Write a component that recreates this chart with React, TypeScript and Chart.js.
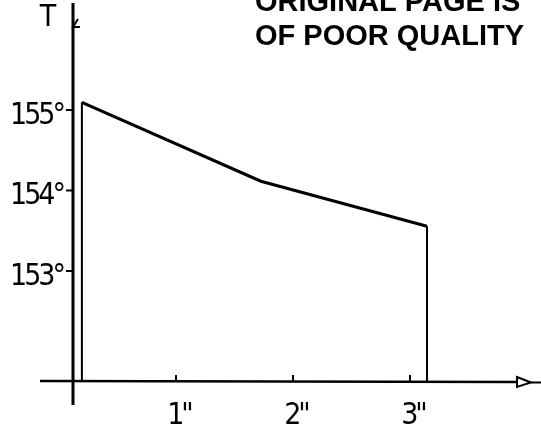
import React, { useEffect, useRef } from "react";
import { Chart, registerables } from "chart.js";

Chart.register(...registerables);

// Data
const timeValues = [0.17, 1.7, 3.12]; // seconds (″)
const temperatureValues = [155.17, 154.19, 153.63]; // T (°)
const xTickValues = [1, 2, 3];
const xTickLabels = ['1"', '2"', '3"'];
const yTickValues = [153, 154, 155];
const yTickLabels = ["153°", "154°", "155°"];
const xRange = [0.094, 3.915];
const yRange = [151.708, 156.404];
const axisTitle = "T";
const stampLines = ["ORIGINAL PAGE IS", "OF POOR QUALITY"];

const FONT_FAMILY = "'DejaVu Sans Condensed', 'DejaVu Sans', sans-serif";

const condensePlugin = {
  id: "condense",
  beforeDraw(chart: any) {
    (chart.ctx as any).letterSpacing = "-3px";
  },
};

const drawingPlugin = {
  id: "handDrawing",
  afterDraw(chart: any) {
    const ctx = chart.ctx as CanvasRenderingContext2D;
    const area = chart.chartArea;
    const xs = chart.scales.x;
    const ys = chart.scales.y;
    ctx.save();
    ctx.strokeStyle = "#000";
    ctx.fillStyle = "#000";
    ctx.lineCap = "butt";

    const ax = area.left;
    const ay = area.bottom;

    // y axis (extends below x axis)
    ctx.lineWidth = 3;
    ctx.beginPath();
    ctx.moveTo(ax, area.top);
    ctx.lineTo(ax, ay + 24);
    ctx.stroke();

    // small mark at top of y axis
    ctx.lineWidth = 2;
    ctx.beginPath();
    ctx.moveTo(ax + 5, area.top + 16);
    ctx.lineTo(ax, area.top + 24);
    ctx.lineTo(ax + 7, area.top + 24);
    ctx.stroke();

    // x axis (extends left of y axis)
    ctx.lineWidth = 2.5;
    ctx.beginPath();
    ctx.moveTo(ax - 33, ay);
    ctx.lineTo(area.right - 3, ay + 1);
    ctx.stroke();
    // arrow head
    ctx.lineWidth = 2;
    ctx.beginPath();
    ctx.moveTo(area.right - 3, ay - 4);
    ctx.lineTo(area.right - 3, ay + 6);
    ctx.lineTo(area.right + 11, ay + 1.5);
    ctx.closePath();
    ctx.stroke();
    ctx.beginPath();
    ctx.moveTo(area.right + 11, ay + 1.5);
    ctx.lineTo(chart.width, ay + 1.5);
    ctx.stroke();

    // tick marks
    ctx.lineWidth = 2;
    yTickValues.forEach((v) => {
      const py = ys.getPixelForValue(v);
      ctx.beginPath();
      ctx.moveTo(ax - 7, py - 6);
      ctx.lineTo(ax, py - 6);
      ctx.stroke();
    });
    xTickValues.forEach((v) => {
      const px = xs.getPixelForValue(v);
      ctx.beginPath();
      ctx.moveTo(px - 3, ay - 6);
      ctx.lineTo(px - 3, ay);
      ctx.stroke();
    });

    // vertical edges at first and last data points
    ctx.lineWidth = 2;
    [0, timeValues.length - 1].forEach((i) => {
      const px = xs.getPixelForValue(timeValues[i]);
      const py = ys.getPixelForValue(temperatureValues[i]);
      ctx.beginPath();
      ctx.moveTo(px, py);
      ctx.lineTo(px, ay);
      ctx.stroke();
    });

    // axis title
    (ctx as any).letterSpacing = "0px";
    ctx.font = `30px ${FONT_FAMILY}`;
    ctx.textAlign = "center";
    ctx.textBaseline = "middle";
    ctx.fillText(axisTitle, ax - 25, area.top + 15);

    // stamp
    ctx.font = "bold 29px 'Liberation Sans', Arial, sans-serif";
    ctx.textAlign = "left";
    ctx.textBaseline = "alphabetic";
    ctx.fillText(stampLines[0], 255, 11);
    ctx.fillText(stampLines[1], 255, 45);

    ctx.restore();
  },
};

export default function App() {
  const canvasRef = useRef<HTMLCanvasElement | null>(null);

  useEffect(() => {
    const canvas = canvasRef.current;
    if (!canvas) return;
    const tickFont = { family: FONT_FAMILY, size: 30 };
    const chart = new Chart(canvas, {
      type: "line",
      data: {
        datasets: [
          {
            data: timeValues.map((x, i) => ({ x, y: temperatureValues[i] })),
            borderColor: "#000",
            borderWidth: 3,
            pointRadius: 0,
            tension: 0,
            fill: false,
          },
        ],
      },
      options: {
        responsive: false,
        animation: false,
        layout: { padding: { left: 0, right: 21, top: 3, bottom: 0 } },
        plugins: {
          legend: { display: false },
          tooltip: { enabled: false },
        },
        scales: {
          x: {
            type: "linear",
            min: xRange[0],
            max: xRange[1],
            afterBuildTicks: (scale: any) => {
              scale.ticks = xTickValues.map((v) => ({ value: v }));
            },
            afterFit: (scale: any) => {
              scale.height = 52;
              scale.paddingLeft = 0;
              scale.paddingRight = 0;
            },
            ticks: {
              autoSkip: false,
              maxRotation: 0,
              minRotation: 0,
              padding: 17,
              color: "#000",
              font: tickFont,
              callback: (v: any) => {
                const i = xTickValues.indexOf(Number(v));
                return i >= 0 ? xTickLabels[i] : "";
              },
            },
            grid: { display: false, drawTicks: false },
            border: { display: false },
          },
          y: {
            type: "linear",
            min: yRange[0],
            max: yRange[1],
            afterBuildTicks: (scale: any) => {
              scale.ticks = yTickValues.map((v) => ({ value: v }));
            },
            afterFit: (scale: any) => {
              scale.width = 73;
              scale.paddingTop = 0;
              scale.paddingBottom = 0;
            },
            ticks: {
              autoSkip: false,
              padding: 10,
              color: "#000",
              font: tickFont,
              callback: (v: any) => {
                const i = yTickValues.indexOf(Number(v));
                return i >= 0 ? yTickLabels[i] : "";
              },
            },
            grid: { display: false, drawTicks: false },
            border: { display: false },
          },
        },
      },
      plugins: [condensePlugin, drawingPlugin],
    });
    return () => chart.destroy();
  }, []);

  return (
    <div style={{ position: "absolute", left: 0, top: 0, width: 541, height: 433, background: "#fff" }}>
      <canvas ref={canvasRef} width={541} height={433} style={{ display: "block" }} />
    </div>
  );
}
